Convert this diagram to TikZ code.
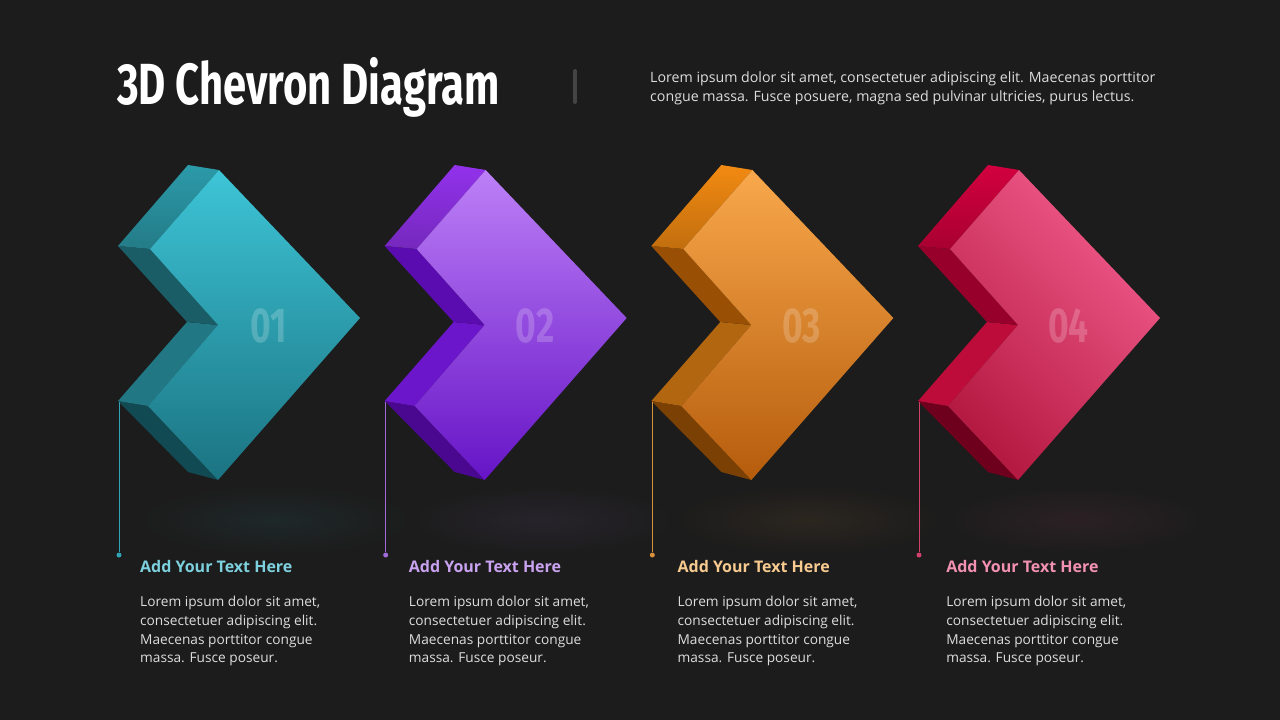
\documentclass[tikz,border=0pt]{standalone}
\usepackage{fontspec}
\setmainfont{Open Sans}
\newfontfamily\condfont[FakeStretch=0.72]{Fira Sans}
\usetikzlibrary{positioning}
\definecolor{bg}{HTML}{1C1C1C}
\definecolor{sep}{HTML}{444444}
\definecolor{txt}{HTML}{DDDDDD}
% teal
\definecolor{ftA}{HTML}{3DC5D7}\definecolor{fbA}{HTML}{1B7381}
\definecolor{tfA}{HTML}{2C9AA9}\definecolor{iuA}{HTML}{1A5D67}
\definecolor{ilA}{HTML}{217884}\definecolor{bfA}{HTML}{124A53}
\definecolor{hdA}{HTML}{7DD0DD}\definecolor{lnA}{HTML}{2FA4B4}
% purple
\definecolor{ftB}{HTML}{BD80F7}\definecolor{fbB}{HTML}{6614C6}
\definecolor{tfB}{HTML}{9232EC}\definecolor{iuB}{HTML}{5A0CB0}
\definecolor{ilB}{HTML}{6C16CC}\definecolor{bfB}{HTML}{4A0890}
\definecolor{hdB}{HTML}{CAA3F0}\definecolor{lnB}{HTML}{A06AD8}
% orange
\definecolor{ftC}{HTML}{F9A84C}\definecolor{fbC}{HTML}{B55C0C}
\definecolor{tfC}{HTML}{F28A12}\definecolor{iuC}{HTML}{9A5004}
\definecolor{ilC}{HTML}{B26610}\definecolor{bfC}{HTML}{7A4004}
\definecolor{hdC}{HTML}{F7CA90}\definecolor{lnC}{HTML}{D8903C}
% pink
\definecolor{ftD}{HTML}{F25C8C}\definecolor{fbD}{HTML}{B51A42}
\definecolor{tfD}{HTML}{D2003E}\definecolor{iuD}{HTML}{98002C}
\definecolor{ilD}{HTML}{BE0C3A}\definecolor{bfD}{HTML}{6E001E}
\definecolor{hdD}{HTML}{F291B1}\definecolor{lnD}{HTML}{D0406A}

\begin{document}
\begin{tikzpicture}[x=1pt, y=-1pt,
    dot/.style={circle, inner sep=0pt, minimum size=5pt},
    heading/.style={anchor=west, inner sep=0pt, font=\bfseries\fontsize{16}{18}\selectfont},
    bodytext/.style={anchor=north west, inner sep=0pt, align=left, text=txt,
      font=\fontsize{13.7}{18.7}\selectfont}]

      \fill [bg] (0,0) rectangle (1280,720);
      \useasboundingbox (0,0) rectangle (1280,720);

      \node [anchor=base west, inner sep=0pt, text=white,
        font=\condfont\bfseries\fontsize{58}{60}\selectfont] at (117,104) (title) {3D Chevron Diagram};
      \draw [sep, line width=4pt, line cap=round] (575,71) -- (575,102);
      \node [anchor=north west, inner sep=0pt, align=left, text=txt,
        font=\fontsize{14.2}{19}\selectfont] at (650,72) (intro)
        {Lorem ipsum dolor sit amet, consectetuer adipiscing elit. Maecenas porttitor\\
         congue massa. Fusce posuere, magna sed pulvinar ultricies, purus lectus.};

      \foreach \i/\c/\n/\ang in {0/A/01/0, 1/B/02/0, 2/C/03/0, 3/D/04/-45} {
        \begin{scope}[xshift=\i*266.67pt]
          % floor glow
          \shade [inner color=ft\c!7!bg, outer color=bg] (275,520) ellipse [x radius=135, y radius=34];
          % side faces
          \fill [bf\c] (118,401) -- (148,406) -- (218,480) -- (188,472) -- cycle;
          \fill [il\c] (187,322) -- (218,325) -- (148,406) -- (118,401) -- cycle;
          \fill [iu\c] (118,246) -- (150,249) -- (218,325) -- (187,322) -- cycle;
          \shade [top color=tf\c, bottom color=tf\c!80!black]
            (188,165) -- (219,170) -- (150,249) -- (118,246) -- cycle;
          % front face
          \shade [top color=ft\c, bottom color=fb\c, shading angle=\ang]
            (219,170) -- (360,318) -- (218,480) -- (148,406) -- (218,325) -- (150,249) -- cycle;
          \node [text=white, text opacity=0.2,
            font=\condfont\bfseries\fontsize{49}{49}\selectfont] at (268.5,326) (num\n) {\n};
          \coordinate (foot\n) at (119,402);
          \node [dot, fill=ln\c] at (119,555) (dot\n) {};
          \draw [ln\c, line width=0.8pt] (foot\n) -- (dot\n);
        \end{scope}
        \node [heading, text=hd\c] at ({140+268.7*\i},566) (head\n) {Add Your Text Here};
        \node [bodytext] at ({140+268.7*\i},596) (body\n)
          {Lorem ipsum dolor sit amet,\\ consectetuer adipiscing elit.\\
           Maecenas porttitor congue\\ massa. Fusce poseur.};
      }
    \end{tikzpicture}
\end{document}
